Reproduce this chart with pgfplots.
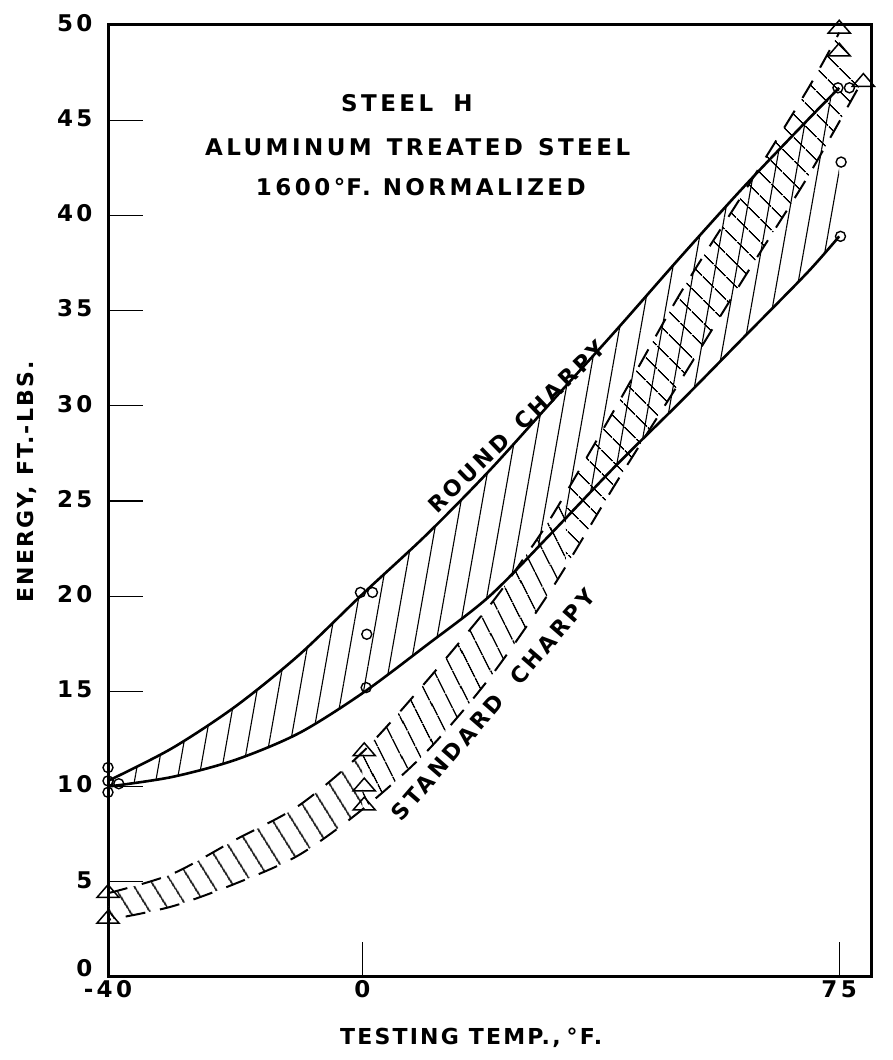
\documentclass[border=0pt]{standalone}
\usepackage{fontspec}
\setmainfont{DejaVu Sans}
\newfontfamily\lero[LetterSpace=15]{DejaVu Sans}
\newfontfamily\lerol[LetterSpace=10]{DejaVu Sans}
\usepackage{pgfplots}
\pgfplotsset{compat=1.18}
\usepgfplotslibrary{fillbetween}
\usetikzlibrary{patterns.meta}
\newcommand\lf{\lero\bfseries\fontsize{23}{27}\selectfont}
\newcommand\lfs{\lero\bfseries\fontsize{22}{26}\selectfont}
\newcommand\lfl{\lerol\bfseries\fontsize{22}{26}\selectfont}
\begin{document}
\begin{tikzpicture}
\begin{axis}[
  scale only axis, width=763pt, height=952pt,
  xmin=-40, xmax=80, ymin=0, ymax=50,
  axis line style={line width=3pt},
  xtick={-40,0,75}, xticklabels={-40,0,75},
  ytick={0,5,...,50},
  yticklabels={\raisebox{14pt}{0},5,10,15,20,25,30,35,40,45,50},
  tick pos=left, tick align=inside,
  major tick length=35pt,
  tick style={line width=1.3pt, black},
  /pgf/number format/assume math mode=true,
  tick label style={font=\lf},
  yticklabel style={xshift=-12pt, yshift=2pt},
  xlabel={TESTING\hspace{10pt}TEMP.,\hspace{6pt}°F.},
  ylabel={ENERGY, FT.-LBS.},
  label style={font=\lfl},
  xlabel style={at={(axis description cs:0.476,-0.064)}, anchor=center},
  ylabel style={at={(axis description cs:-0.106,0.52)}, anchor=center},
  clip=false,
]
% Round Charpy band
\addplot[name path=RU, line width=2.6pt, smooth] coordinates {
 (-40,10.3) (-30,12.0) (-20,14.2) (-10,16.9) (0,20.1) (10,23.2) (20,26.6)
 (30,30.3) (40,34.0) (50,37.8) (60,41.5) (70,45.0) (75,46.7)};
\addplot[name path=RL, line width=2.6pt, smooth] coordinates {
 (-40,10.0) (-30,10.5) (-20,11.4) (-10,12.8) (0,14.9) (10,17.4) (20,20.0)
 (30,23.4) (40,26.9) (50,30.2) (60,33.6) (70,37.0) (75,38.9)};
\addplot[draw=none, pattern={Lines[angle=80,distance=21pt,line width=1.1pt]}]
  fill between[of=RU and RL];
% Standard Charpy band
\addplot[name path=SU, line width=2pt, smooth, dash pattern=on 20pt off 15pt] coordinates {
 (-40,4.4) (-30,5.4) (-20,7.2) (-10,9.0) (0,11.8) (10,15.5) (20,19.5)
 (25,21.8) (30,24.3) (40,30.0) (50,35.9) (60,41.2) (70,46.6) (75,49.6)};
\addplot[name path=SL, line width=2pt, smooth, dash pattern=on 20pt off 15pt, dash phase=17pt] coordinates {
 (-40,3.0) (-30,3.7) (-20,4.9) (-10,6.4) (0,8.8) (10,11.8) (20,15.7)
 (30,20.5) (40,26.0) (50,31.3) (60,36.7) (70,42.0) (78.5,47.0)};
\addplot[draw=none, pattern={Lines[angle=122,distance=17pt,line width=1.7pt]}]
  fill between[of=SU and SL, soft clip={domain=-40:0}];
\addplot[draw=none, pattern={Lines[angle=117,distance=17pt,line width=1.7pt]}]
  fill between[of=SU and SL, soft clip={domain=0:32}];
\addplot[draw=none, pattern={Lines[angle=135,distance=17pt,line width=1.7pt]}]
  fill between[of=SU and SL, soft clip={domain=32:80}];
% data points
\addplot[only marks, mark=o, mark size=5pt, line width=1.4pt, mark options={fill=white}] coordinates {
 (-40,11.0) (-40,10.3) (-38.3,10.15) (-40,9.7)
 (-0.3,20.2) (1.6,20.2) (0.7,18.0) (0.6,15.2)
 (74.8,46.7) (76.6,46.7) (75.3,42.8) (75.2,38.9)};
\addplot[only marks, mark=triangle, mark size=8.5pt, line width=1.5pt, mark options={fill=white, xscale=1.5}] coordinates {
 (-40,4.4) (-40,3.05) (0.3,11.85) (0.3,10.0) (0.3,9.0)
 (75,49.8) (75,48.6) (78.8,47.0)};
% labels
\node[font=\lfs, rotate=44] at (axis cs:24.3,28.9) {ROUND\hspace{16pt}CHARPY};
\node[font=\lfs, rotate=49] at (axis cs:20.6,14.3) {STANDARD\hspace{22pt}CHARPY};
\node[font=\lf] at (axis cs:7.0,45.9) {STEEL\hspace{20pt}H};
\node[font=\lf] at (axis cs:8.7,43.6) {ALUMINUM\hspace{15pt}TREATED\hspace{15pt}STEEL};
\node[font=\lf] at (axis cs:9.2,41.5) {1600°\hspace{1pt}F.\hspace{12pt}NORMALIZED};
\end{axis}
\path ([xshift=-108pt,yshift=-83pt]current axis.south west) rectangle ([xshift=22pt,yshift=25pt]current axis.north east);
\end{tikzpicture}
\end{document}
